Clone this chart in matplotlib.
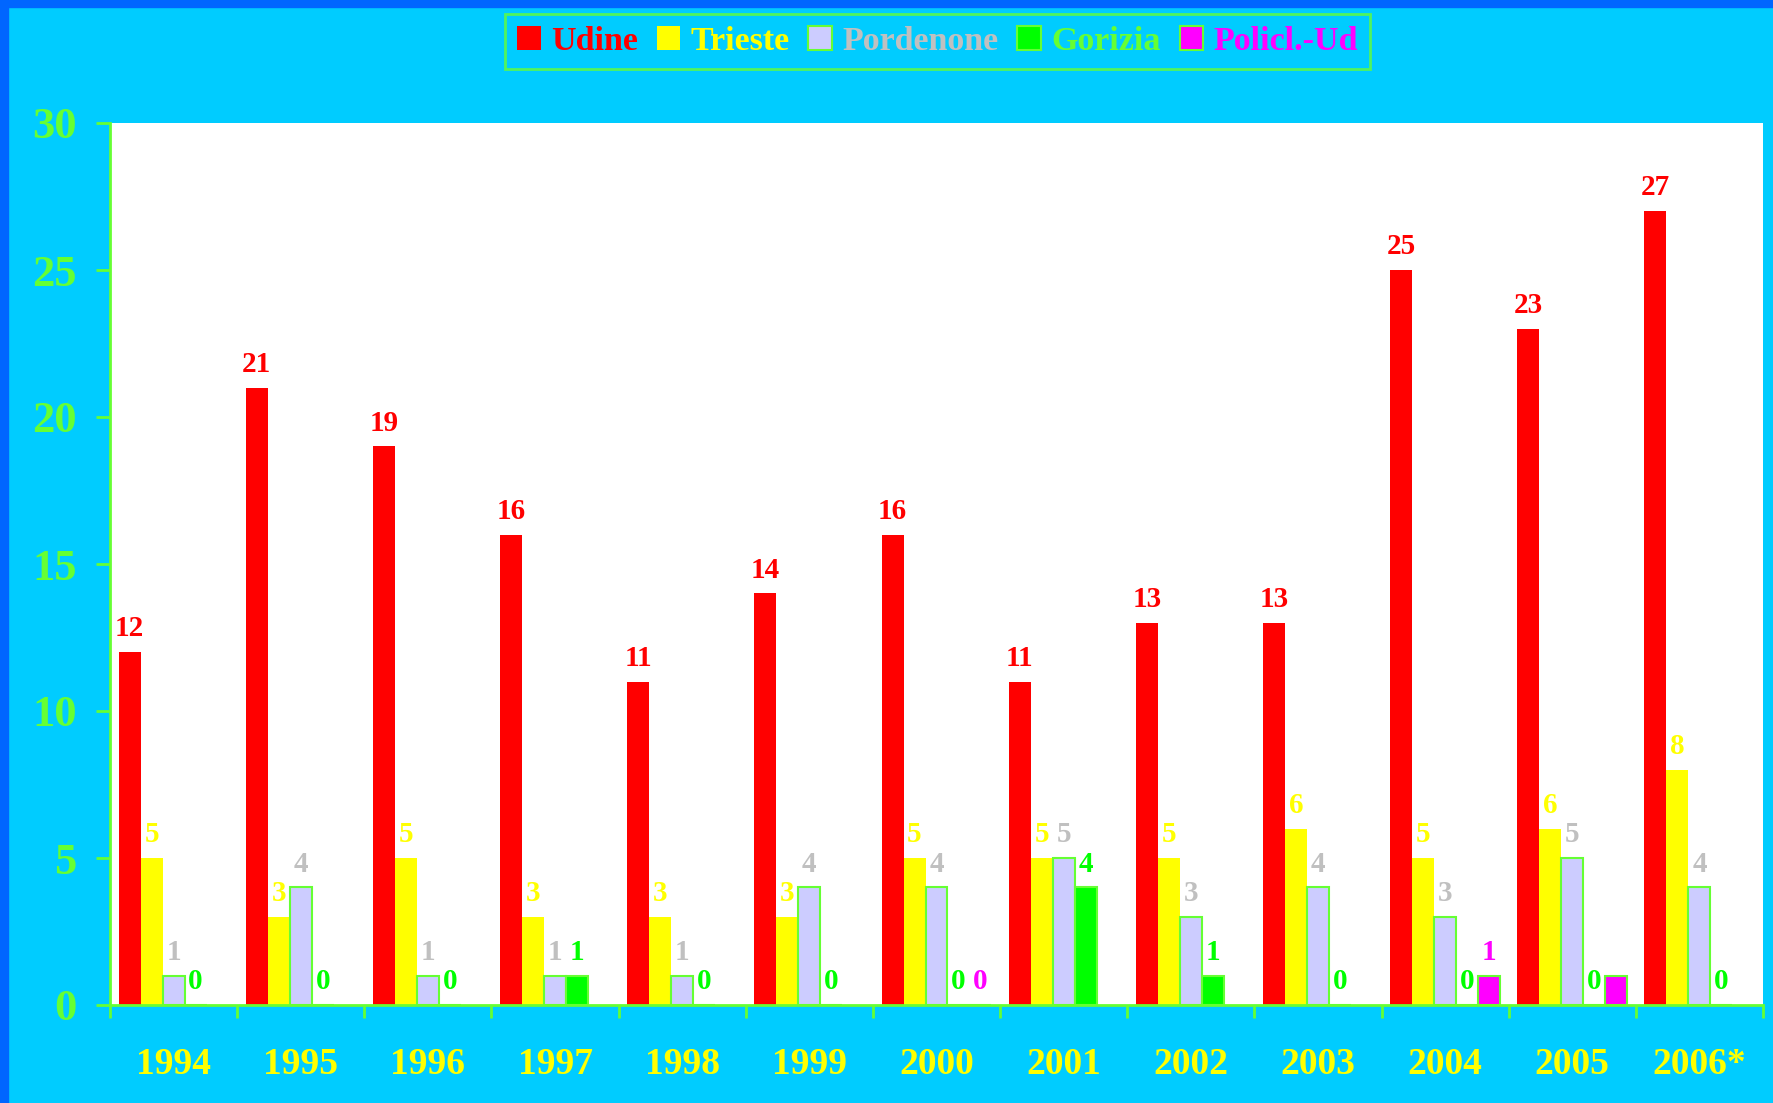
import matplotlib

matplotlib.use("Agg")

import matplotlib.pyplot as plt
import numpy as np
from matplotlib.patches import Rectangle

years = ["1994", "1995", "1996", "1997", "1998", "1999", "2000",
         "2001", "2002", "2003", "2004", "2005", "2006*"]
udine = [12, 21, 19, 16, 11, 14, 16, 11, 13, 13, 25, 23, 27]
trieste = [5, 3, 5, 3, 3, 3, 5, 5, 5, 6, 5, 6, 8]
pordenone = [1, 4, 1, 1, 1, 4, 4, 5, 3, 4, 3, 5, 4]
gorizia = [0, 0, 0, 1, 0, 0, 0, 4, 1, 0, 0, 0, 0]
policlinico = [None, None, None, None, None, None, 0, None, None, None, 1, 1, None]
# the 2005 Policl. bar carries no value label in the original
policlinico_labels = [None, None, None, None, None, None, "0", None, None, None, "1", None, None]

series = [
    ("Udine", udine, "#FF0000", "#FF0000", "#FF0000", "#FF0000"),
    ("Trieste", trieste, "#FFFF00", "#FFFF00", "#FFFF00", "#FFFF00"),
    ("Pordenone", pordenone, "#CCCCFF", "#66FF33", "#C0C0C0", "#C0C0C0"),
    ("Gorizia", gorizia, "#00FF00", "#66FF33", "#00FF00", "#66FF33"),
    ("Policl.-Ud", policlinico, "#FF00FF", "#66FF33", "#FF00FF", "#FF00FF"),
]

BG = "#00CCFF"
AXIS = "#66FF33"
FONT = "Liberation Serif"

fig = plt.figure(figsize=(17.74, 11.03), dpi=100, facecolor=BG)
fig.patches.append(Rectangle((0, 0), 8 / 1774, 1, transform=fig.transFigure, color="#0066FF", zorder=0))
fig.patches.append(Rectangle((0, 1 - 7 / 1103), 1, 7 / 1103, transform=fig.transFigure, color="#0066FF", zorder=0))

ax = fig.add_axes([110 / 1774, 1 - 1005 / 1103, (1763 - 110) / 1774, (1005 - 123) / 1103])
ax.set_facecolor("white")

x = np.arange(len(years))
width = 0.173
handles = []
for k, (name, values, face, edge, label_color, legend_color) in enumerate(series):
    pos = x + (k - 2) * width
    vals = [np.nan if v is None else v for v in values]
    lw = 0 if edge == face else 1.5
    bars = ax.bar(pos, vals, width, color=face, edgecolor=edge, linewidth=lw, zorder=2)
    handles.append(bars)
    labels = policlinico_labels if name == "Policl.-Ud" else [None if v is None else str(v) for v in values]
    for xp, v, lab in zip(pos, vals, labels):
        if lab is None:
            continue
        ax.annotate(lab, (xp, v), xytext=(0, 7), textcoords="offset points",
                    ha="center", va="bottom", fontsize=21, fontweight="bold",
                    color=label_color, family=FONT)

ax.set_xlim(-0.5, len(years) - 0.5)
ax.set_ylim(0, 30)
ax.set_yticks(range(0, 31, 5))
ax.set_xticks(x)
ax.set_xticklabels(years)
ax.set_xticks(np.arange(len(years) + 1) - 0.5, minor=True)

for side in ["top", "right"]:
    ax.spines[side].set_visible(False)
for side in ["left", "bottom"]:
    ax.spines[side].set_color(AXIS)
    ax.spines[side].set_linewidth(2)
    ax.spines[side].set_zorder(3)

ax.tick_params(axis="y", length=10, width=2, color=AXIS, pad=14, labelcolor=AXIS, labelsize=32)
ax.tick_params(axis="x", which="major", length=0, pad=30, labelcolor="#FFFF00", labelsize=27)
ax.tick_params(axis="x", which="minor", length=9, width=2, color=AXIS)
for lab in ax.get_xticklabels() + ax.get_yticklabels():
    lab.set_family(FONT)
    lab.set_fontweight("bold")

leg = fig.legend(handles, [s[0] for s in series], loc="center", bbox_to_anchor=(0.5285, 0.9624),
                 ncol=5, frameon=True, fancybox=False, facecolor=BG, edgecolor=AXIS,
                 handlelength=0.7, handleheight=0.7, handletextpad=0.3, columnspacing=0.55,
                 borderpad=0.35, prop={"family": FONT, "weight": "bold", "size": 24.5})
leg.get_frame().set_linewidth(2)
for text, s in zip(leg.get_texts(), series):
    text.set_color(s[5])

fig.savefig("out.png", dpi=100, facecolor=BG)
